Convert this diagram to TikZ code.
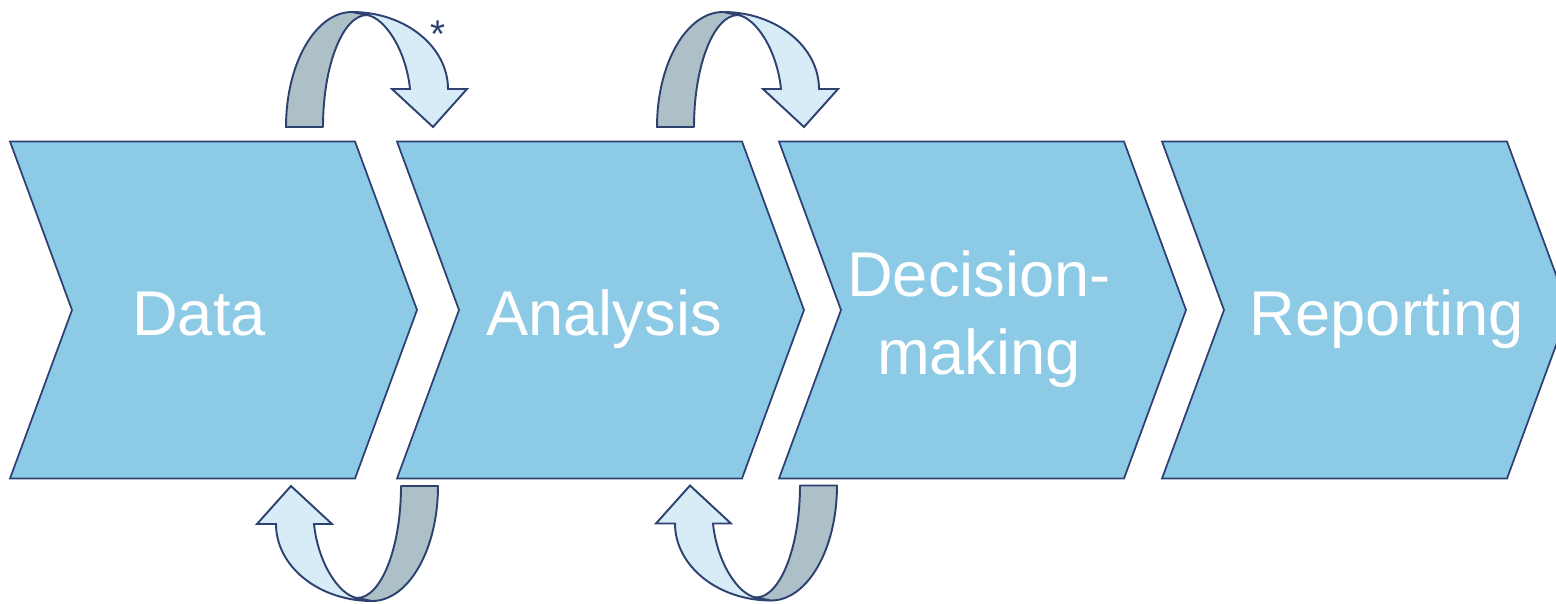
\documentclass[tikz,border=0pt]{standalone}
\usepackage{fontspec}
\setmainfont{Liberation Sans}
\definecolor{chevfill}{HTML}{8DCAE6}
\definecolor{edge}{HTML}{2E4272}
\definecolor{lightarr}{HTML}{D7ECF6}
\definecolor{greyarr}{HTML}{ADBFC7}
\tikzset{
    chevron/.style={fill=chevfill, draw=edge, line width=1pt, line join=miter},
    steptext/.style={text=white, font=\fontsize{36}{44.4}\selectfont, align=center, inner sep=0pt},
    backband/.style={fill=greyarr, draw=edge, line width=1.1pt, line join=round},
    frontband/.style={fill=lightarr, draw=edge, line width=1.1pt, line join=miter},
    pics/looparrow/.style={code={
        \filldraw[frontband] (-10,-294.5) .. controls (43,-294.5) and (86,-260) .. (86,-217.5)
            -- (105,-217.5) -- (71,-179.5) -- (30,-217.5) -- (48,-217.5)
            .. controls (44,-256.5) and (23,-288.5) .. (5,-291.5) -- cycle;
        \filldraw[backband] (-76,-179.5) -- (-39,-179.5)
            .. controls (-39,-241.5) and (-19,-291.5) .. (5,-291.5)
            -- (-10,-294.5) .. controls (-46.5,-294.5) and (-76,-243) .. cycle;
    }}
}
\begin{document}
\begin{tikzpicture}[x=0.02cm, y=-0.02cm]
    \useasboundingbox (0,0) rectangle (1556,603);
    \clip (0,0) rectangle (1556,603);

    % the four steps
    \foreach \x in {10, 397, 779, 1162}
        \filldraw[chevron] (\x,141.5) -- ++(345,0) -- ++(62,168.5) -- ++(-62,168.5)
            -- ++(-345,0) -- ++(62,-168.5) -- cycle;

    \node[steptext, anchor=base] (data)      at (199,335) {Data};
    \node[steptext, anchor=base] (analysis)  at (604,335) {Analysis};
    \node[steptext]              (decision)  at (979,319.5) {Decision-\\making};
    \node[steptext, anchor=base] (reporting) at (1387,335) {Reporting};

    % feedback loops
    \pic at (362,306.5) {looparrow};
    \pic at (733,306.5) {looparrow};
    \pic[rotate=180] at (362,306.5) {looparrow};
    \pic[rotate=180] at (761,306) {looparrow};

    \node[text=edge, font=\fontsize{22}{24}\selectfont, inner sep=0pt, anchor=north] (star) at (438,21) {*};
\end{tikzpicture}
\end{document}
